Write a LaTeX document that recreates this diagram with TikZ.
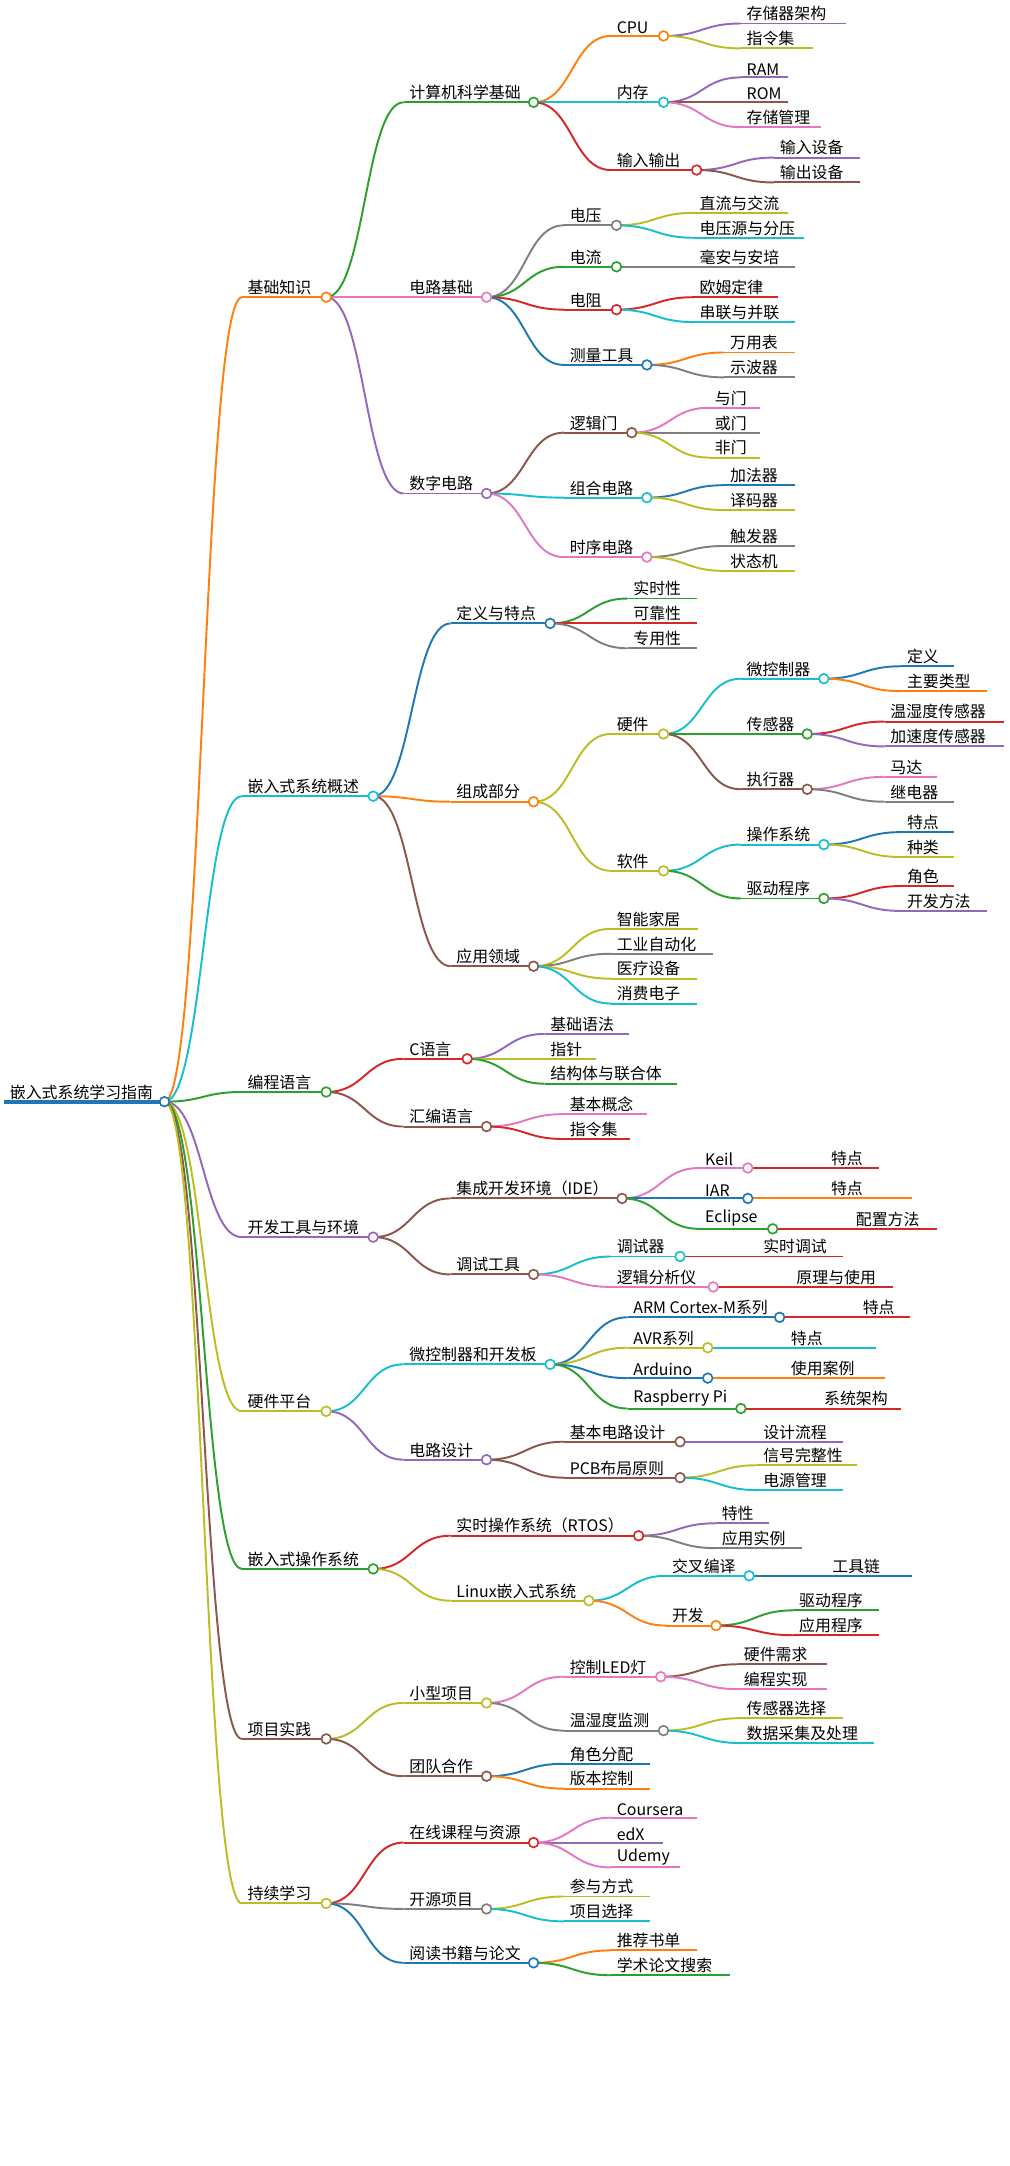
\documentclass[tikz,border=0pt]{standalone}
\usepackage{fontspec}
\setmainfont{Noto Sans CJK SC}
\usetikzlibrary{calc}
\pgfdeclarelayer{bg}
\pgfsetlayers{bg,main}
\definecolor{mblue}{HTML}{1F77B4}
\definecolor{morange}{HTML}{FF7F0E}
\definecolor{mgreen}{HTML}{2CA02C}
\definecolor{mred}{HTML}{D62728}
\definecolor{mpurple}{HTML}{9467BD}
\definecolor{mbrown}{HTML}{8C564B}
\definecolor{mpink}{HTML}{E377C2}
\definecolor{mgray}{HTML}{7F7F7F}
\definecolor{molive}{HTML}{BCBD22}
\definecolor{mcyan}{HTML}{17BECF}
\tikzset{
  stem/.style={line width=1.4pt},
  lbl/.style={font=\fontsize{11.5}{13}\selectfont, inner xsep=4pt, inner ysep=1.5pt},
  knot/.style={circle, fill=white, line width=1.2pt, inner sep=0pt, minimum size=7pt}
}
% name, x, x2, y, colour, text, parent
\newcommand{\topic}[7]{%
  \coordinate (#1) at (#2,#4);
  \coordinate (#1-e) at (#3,#4);
  \draw[stem,#5] (#1) -- (#1-e);
  \node[lbl, anchor=south west] (#1-t) at (#1) {#6};
  \begin{pgfonlayer}{bg}
    \draw[stem,#5] let \p1=(#7-e), \p2=(#1) in
      (\p1) .. controls ({(\x1+\x2)/2},\y1) and ({(\x1+\x2)/2},\y2) .. (\p2);
  \end{pgfonlayer}}
\newcommand{\branch}[7]{\topic{#1}{#2}{#3}{#4}{#5}{#6}{#7}%
  \node[knot, draw=#5] (#1-c) at (#1-e) {};}
\begin{document}
\begin{tikzpicture}[x=1pt,y=-1pt]
\useasboundingbox (0,0) rectangle (730,1567);
% root
\coordinate (r) at (3,797);
\coordinate (r-e) at (119,797);
\draw[mblue, line width=3pt] (r) -- (r-e);
\node[lbl, anchor=south west] (r-t) at (r) {嵌入式系统学习指南};
\node[knot, draw=mblue] (r-c) at (r-e) {};

% 基础知识
\branch{a}{175}{236}{215}{morange}{基础知识}{r}
\branch{a1}{292}{386}{74}{mgreen}{计算机科学基础}{a}
\branch{a11}{442}{480}{26}{morange}{CPU}{a1}
\topic{a111}{536}{612}{17}{mpurple}{存储器架构}{a11}
\topic{a112}{536}{588}{35}{molive}{指令集}{a11}
\branch{a12}{442}{480}{74}{mcyan}{内存}{a1}
\topic{a121}{536}{570}{56}{mpurple}{RAM}{a12}
\topic{a122}{536}{570}{74}{mbrown}{ROM}{a12}
\topic{a123}{536}{594}{92}{mpink}{存储管理}{a12}
\branch{a13}{442}{504}{123}{mred}{输入输出}{a1}
\topic{a131}{560}{622}{114}{mpurple}{输入设备}{a13}
\topic{a132}{560}{622}{132}{mbrown}{输出设备}{a13}
\branch{a2}{292}{352}{215}{mpink}{电路基础}{a}
\branch{a21}{408}{446}{163}{mgray}{电压}{a2}
\topic{a211}{502}{570}{154}{molive}{直流与交流}{a21}
\topic{a212}{502}{582}{172}{mcyan}{电压源与分压}{a21}
\branch{a22}{408}{446}{193}{mgreen}{电流}{a2}
\topic{a221}{502}{575}{193}{mgray}{毫安与安培}{a22}
\branch{a23}{408}{446}{224}{mred}{电阻}{a2}
\topic{a231}{502}{563}{215}{mred}{欧姆定律}{a23}
\topic{a232}{502}{575}{233}{mcyan}{串联与并联}{a23}
\branch{a24}{408}{468}{264}{mblue}{测量工具}{a2}
\topic{a241}{524}{575}{255}{morange}{万用表}{a24}
\topic{a242}{524}{575}{273}{mgray}{示波器}{a24}
\branch{a3}{292}{352}{357}{mpurple}{数字电路}{a}
\branch{a31}{408}{457}{313}{mbrown}{逻辑门}{a3}
\topic{a311}{513}{550}{295}{mpink}{与门}{a31}
\topic{a312}{513}{550}{313}{mgray}{或门}{a31}
\topic{a313}{513}{550}{331}{molive}{非门}{a31}
\branch{a32}{408}{468}{360}{mcyan}{组合电路}{a3}
\topic{a321}{524}{575}{351}{mblue}{加法器}{a32}
\topic{a322}{524}{575}{369}{molive}{译码器}{a32}
\branch{a33}{408}{468}{403}{mpink}{时序电路}{a3}
\topic{a331}{524}{575}{395}{mgray}{触发器}{a33}
\topic{a332}{524}{575}{413}{molive}{状态机}{a33}

% 嵌入式系统概述
\branch{b}{175}{270}{576}{mcyan}{嵌入式系统概述}{r}
\branch{b1}{326}{398}{451}{mblue}{定义与特点}{b}
\topic{b11}{454}{504}{433}{mgreen}{实时性}{b1}
\topic{b12}{454}{504}{451}{mred}{可靠性}{b1}
\topic{b13}{454}{504}{469}{mgray}{专用性}{b1}
\branch{b2}{326}{386}{580}{morange}{组成部分}{b}
\branch{b21}{442}{480}{531}{molive}{硬件}{b2}
\branch{b211}{536}{596}{491}{mcyan}{微控制器}{b21}
\topic{b2111}{652}{690}{482}{mblue}{定义}{b211}
\topic{b2112}{652}{714}{500}{morange}{主要类型}{b211}
\branch{b212}{536}{584}{531}{mgreen}{传感器}{b21}
\topic{b2121}{640}{726}{522}{mred}{温湿度传感器}{b212}
\topic{b2122}{640}{726}{540}{mpurple}{加速度传感器}{b212}
\branch{b213}{536}{584}{571}{mbrown}{执行器}{b21}
\topic{b2131}{640}{678}{562}{mpink}{马达}{b213}
\topic{b2132}{640}{690}{580}{mgray}{继电器}{b213}
\branch{b22}{442}{480}{630}{molive}{软件}{b2}
\branch{b221}{536}{596}{611}{mcyan}{操作系统}{b22}
\topic{b2211}{652}{690}{602}{mblue}{特点}{b221}
\topic{b2212}{652}{690}{620}{molive}{种类}{b221}
\branch{b222}{536}{596}{650}{mgreen}{驱动程序}{b22}
\topic{b2221}{652}{690}{641}{mred}{角色}{b222}
\topic{b2222}{652}{714}{659}{mpurple}{开发方法}{b222}
\branch{b3}{326}{386}{699}{mbrown}{应用领域}{b}
\topic{b31}{442}{505}{672}{molive}{智能家居}{b3}
\topic{b32}{442}{516}{690}{mgray}{工业自动化}{b3}
\topic{b33}{442}{504}{708}{molive}{医疗设备}{b3}
\topic{b34}{442}{504}{726}{mcyan}{消费电子}{b3}

% 编程语言
\branch{c}{175}{236}{790}{mgreen}{编程语言}{r}
\branch{c1}{292}{338}{766}{mred}{C语言}{c}
\topic{c11}{394}{455}{748}{mpurple}{基础语法}{c1}
\topic{c12}{394}{431}{766}{molive}{指针}{c1}
\topic{c13}{394}{490}{784}{mgreen}{结构体与联合体}{c1}
\branch{c2}{292}{352}{815}{mbrown}{汇编语言}{c}
\topic{c21}{408}{468}{806}{mpink}{基本概念}{c2}
\topic{c22}{408}{456}{824}{mred}{指令集}{c2}

% 开发工具与环境
\branch{d}{175}{270}{895}{mpurple}{开发工具与环境}{r}
\branch{d1}{326}{450}{867}{mbrown}{集成开发环境（IDE）}{d}
\branch{d11}{506}{541}{845}{mpink}{Keil}{d1}
\topic{d111}{597}{636}{845}{mred}{特点}{d11}
\branch{d12}{506}{541}{867}{mblue}{IAR}{d1}
\topic{d121}{597}{660}{867}{morange}{特点}{d12}
\branch{d13}{506}{559}{889}{mgreen}{Eclipse}{d1}
\topic{d131}{615}{678}{889}{mred}{配置方法}{d13}
\branch{d2}{326}{386}{922}{mbrown}{调试工具}{d}
\branch{d21}{442}{492}{909}{mcyan}{调试器}{d2}
\topic{d211}{548}{610}{909}{mred}{实时调试}{d21}
\branch{d22}{442}{516}{931}{mpink}{逻辑分析仪}{d2}
\topic{d221}{572}{646}{931}{mred}{原理与使用}{d22}

% 硬件平台
\branch{e}{175}{236}{1021}{molive}{硬件平台}{r}
\branch{e1}{292}{398}{987}{mcyan}{微控制器和开发板}{e}
\branch{e11}{454}{564}{953}{mblue}{ARM Cortex-M系列}{e1}
\topic{e111}{620}{658}{953}{mred}{特点}{e11}
\branch{e12}{454}{512}{975}{molive}{AVR系列}{e1}
\topic{e121}{568}{634}{975}{mcyan}{特点}{e12}
\branch{e13}{454}{512}{997}{mblue}{Arduino}{e1}
\topic{e131}{568}{640}{997}{morange}{使用案例}{e13}
\branch{e14}{454}{536}{1019}{mgreen}{Raspberry Pi}{e1}
\topic{e141}{592}{652}{1019}{mred}{系统架构}{e14}
\branch{e2}{292}{352}{1056}{mpurple}{电路设计}{e}
\branch{e21}{408}{492}{1043}{mbrown}{基本电路设计}{e2}
\topic{e211}{548}{610}{1043}{mpurple}{设计流程}{e21}
\branch{e22}{408}{492}{1069}{mbrown}{PCB布局原则}{e2}
\topic{e221}{548}{620}{1060}{molive}{信号完整性}{e22}
\topic{e222}{548}{610}{1078}{mcyan}{电源管理}{e22}

% 嵌入式操作系统
\branch{f}{175}{270}{1135}{mgreen}{嵌入式操作系统}{r}
\branch{f1}{326}{462}{1111}{mred}{实时操作系统（RTOS）}{f}
\topic{f11}{518}{556}{1102}{mpurple}{特性}{f1}
\topic{f12}{518}{580}{1120}{mgray}{应用实例}{f1}
\branch{f2}{326}{426}{1158}{molive}{Linux嵌入式系统}{f}
\branch{f21}{482}{542}{1140}{mcyan}{交叉编译}{f2}
\topic{f211}{598}{660}{1140}{mblue}{工具链}{f21}
\branch{f22}{482}{518}{1176}{morange}{开发}{f2}
\topic{f221}{574}{636}{1165}{mgreen}{驱动程序}{f22}
\topic{f222}{574}{636}{1183}{mred}{应用程序}{f22}

% 项目实践
\branch{g}{175}{236}{1258}{mbrown}{项目实践}{r}
\branch{g1}{292}{352}{1232}{molive}{小型项目}{g}
\branch{g11}{408}{478}{1213}{mpink}{控制LED灯}{g1}
\topic{g111}{534}{598}{1204}{mbrown}{硬件需求}{g11}
\topic{g112}{534}{598}{1222}{mpink}{编程实现}{g11}
\branch{g12}{408}{480}{1252}{mgray}{温湿度监测}{g1}
\topic{g121}{536}{610}{1243}{molive}{传感器选择}{g12}
\topic{g122}{536}{632}{1261}{mcyan}{数据采集及处理}{g12}
\branch{g2}{292}{352}{1285}{mbrown}{团队合作}{g}
\topic{g21}{408}{470}{1276}{mblue}{角色分配}{g2}
\topic{g22}{408}{470}{1294}{morange}{版本控制}{g2}

% 持续学习
\branch{h}{175}{236}{1377}{molive}{持续学习}{r}
\branch{h1}{292}{386}{1333}{mred}{在线课程与资源}{h}
\topic{h11}{442}{504}{1315}{mpink}{Coursera}{h1}
\topic{h12}{442}{480}{1333}{mpurple}{edX}{h1}
\topic{h13}{442}{492}{1351}{mpink}{Udemy}{h1}
\branch{h2}{292}{352}{1381}{mgray}{开源项目}{h}
\topic{h21}{408}{470}{1372}{molive}{参与方式}{h2}
\topic{h22}{408}{470}{1390}{mcyan}{项目选择}{h2}
\branch{h3}{292}{386}{1420}{mblue}{阅读书籍与论文}{h}
\topic{h31}{442}{504}{1411}{morange}{推荐书单}{h3}
\topic{h32}{442}{528}{1429}{mgreen}{学术论文搜索}{h3}
\end{tikzpicture}
\end{document}
